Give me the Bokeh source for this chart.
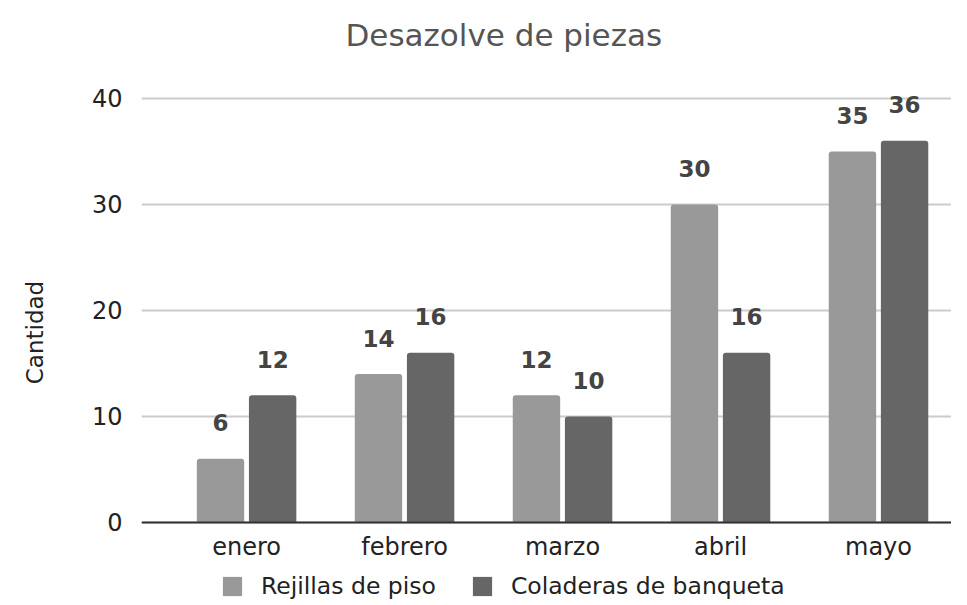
from bokeh.plotting import figure
from bokeh.models import ColumnDataSource, Range1d, FixedTicker, Legend, LegendItem
from bokeh.core.properties import value
from bokeh.embed import file_html
from bokeh.resources import INLINE

categories = ["enero", "febrero", "marzo", "abril", "mayo"]
rejillas = [6, 14, 12, 30, 35]
coladeras = [12, 16, 10, 16, 36]
y_ticks = [0, 10, 20, 30, 40]

FONT = "DejaVu Sans"
idx = list(range(len(categories)))
src = ColumnDataSource(dict(
    x1=[i - 0.165 for i in idx], x2=[i + 0.165 for i in idx],
    r=rejillas, c=coladeras,
    rl=[str(v) for v in rejillas], cl=[str(v) for v in coladeras],
))

p = figure(width=951, height=600, output_backend="svg", toolbar_location=None,
           x_range=Range1d(-0.665, 4.462), y_range=Range1d(-7.36, 43.2),
           min_border_left=141, min_border_right=0, min_border_top=64, min_border_bottom=0,
           title="Desazolve de piezas")
p.outline_line_color = None
p.background_fill_color = "white"
p.border_fill_color = "white"

p.title.text_font = FONT
p.title.text_font_size = "31px"
p.title.text_font_style = "normal"
p.title.text_color = "#555555"
p.title.align = "left"
p.title.offset = 204
p.title.standoff = 24

r1 = p.vbar(x="x1", top="r", width=0.3, source=src, fill_color="#999999", line_color=None,
            border_radius=(3, 3, 0, 0))
r2 = p.vbar(x="x2", top="c", width=0.3, source=src, fill_color="#666666", line_color=None,
            border_radius=(3, 3, 0, 0))

for xc, yc, tc in (("x1", "r", "rl"), ("x2", "c", "cl")):
    p.text(x=xc, y=yc, text=tc, source=src, text_align="center", text_baseline="alphabetic",
           y_offset=-36, text_font=value(FONT), text_font_size="23px",
           text_font_style="bold", text_color="#444444")

p.xgrid.grid_line_color = None
p.ygrid.grid_line_color = "#cccccc"
p.ygrid.grid_line_width = 2
p.ygrid.ticker = FixedTicker(ticks=y_ticks)

p.yaxis.ticker = FixedTicker(ticks=y_ticks)
p.yaxis.axis_line_color = None
p.yaxis.major_tick_line_color = None
p.yaxis.minor_tick_line_color = None
p.yaxis.major_label_text_font = FONT
p.yaxis.major_label_text_font_size = "24px"
p.yaxis.major_label_text_color = "#222222"
p.yaxis.major_label_standoff = 13
p.yaxis.axis_label = "Cantidad"
p.yaxis.axis_label_text_font = FONT
p.yaxis.axis_label_text_font_size = "23px"
p.yaxis.axis_label_text_font_style = "normal"
p.yaxis.axis_label_text_color = "#222222"
p.yaxis.axis_label_standoff = 41

p.xaxis.fixed_location = 0
p.xaxis.ticker = FixedTicker(ticks=idx)
p.xaxis.major_label_overrides = {i: c for i, c in zip(idx, categories)}
p.xaxis.axis_line_color = "#333333"
p.xaxis.axis_line_width = 2
p.xaxis.major_tick_line_color = None
p.xaxis.minor_tick_line_color = None
p.xaxis.major_label_text_font = FONT
p.xaxis.major_label_text_font_size = "24px"
p.xaxis.major_label_text_color = "#222222"
p.xaxis.major_label_standoff = 5

legend = Legend(items=[LegendItem(label="Rejillas de piso", renderers=[r1]),
                       LegendItem(label="Coladeras de banqueta", renderers=[r2])],
                orientation="horizontal", location=(79, 0), margin=0, padding=0,
                spacing=34, glyph_width=24, glyph_height=24, label_height=24,
                label_standoff=17, label_text_font=FONT, label_text_font_size="23.5px",
                label_text_color="#222222", border_line_color=None,
                background_fill_alpha=0)
p.add_layout(legend, "center")

open("out.html", "w").write(file_html(p, INLINE))
